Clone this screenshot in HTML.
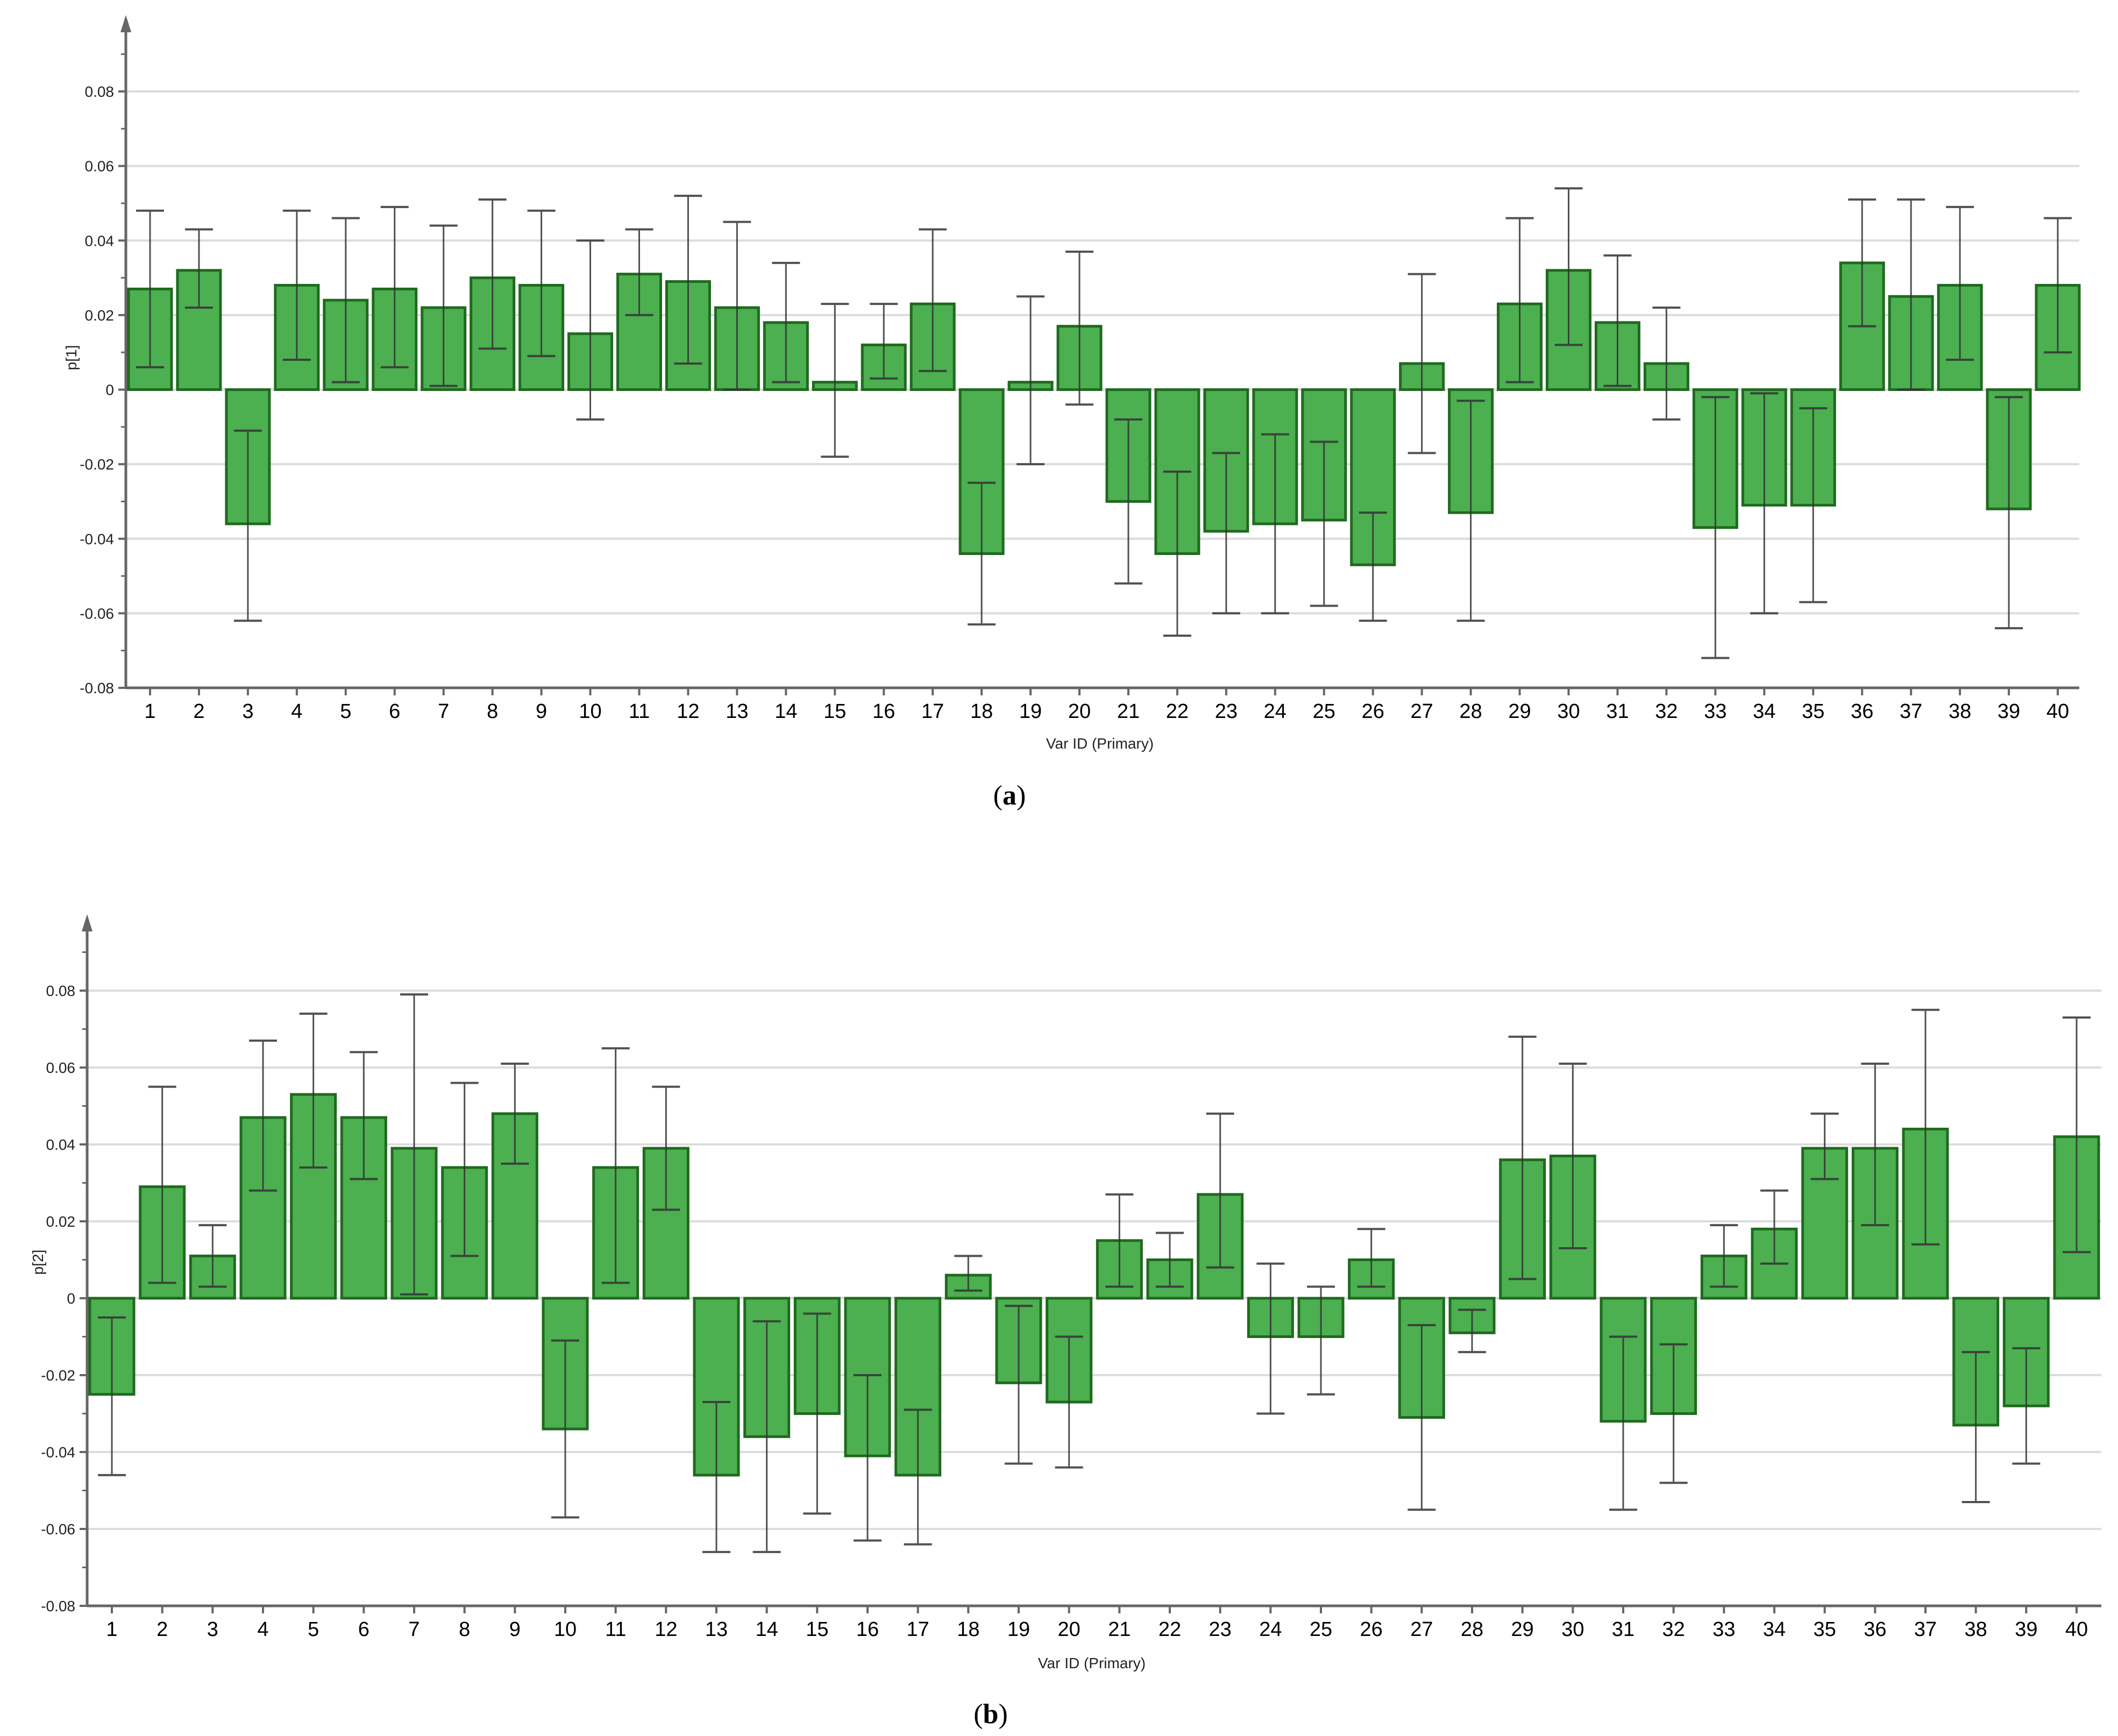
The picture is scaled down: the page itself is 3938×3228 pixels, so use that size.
<!DOCTYPE html>
<html><head><meta charset="utf-8"><style>
html,body{margin:0;padding:0;background:#fff;}
svg{display:block;font-family:"Liberation Sans",Arial,sans-serif;}
</style></head><body>
<svg id="svg" width="3938" height="3228" viewBox="0 0 3938 3228" xmlns="http://www.w3.org/2000/svg">
<text x="1877" y="1496" font-family="Liberation Serif,serif" font-size="52" text-anchor="middle">(<tspan font-weight="bold">a</tspan>)</text>
<text x="1842" y="3204" font-family="Liberation Serif,serif" font-size="52" text-anchor="middle">(<tspan font-weight="bold">b</tspan>)</text>
</svg>
<script>
const categories = Array.from({length:40},(_,i)=>String(i+1));
const yTicks = [0.08,0.06,0.04,0.02,0,-0.02,-0.04,-0.06,-0.08];
const yTickLabels = ["0.08","0.06","0.04","0.02","0","-0.02","-0.04","-0.06","-0.08"];
const p1Values = [0.027,0.032,-0.036,0.028,0.024,0.027,0.022,0.030,0.028,0.015,0.031,0.029,0.022,0.018,0.002,0.012,0.023,-0.044,0.002,0.017,-0.030,-0.044,-0.038,-0.036,-0.035,-0.047,0.007,-0.033,0.023,0.032,0.018,0.007,-0.037,-0.031,-0.031,0.034,0.025,0.028,-0.032,0.028];
const p1ErrLow = [0.006,0.022,-0.062,0.008,0.002,0.006,0.001,0.011,0.009,-0.008,0.020,0.007,0.000,0.002,-0.018,0.003,0.005,-0.063,-0.020,-0.004,-0.052,-0.066,-0.060,-0.060,-0.058,-0.062,-0.017,-0.062,0.002,0.012,0.001,-0.008,-0.072,-0.060,-0.057,0.017,0.000,0.008,-0.064,0.010];
const p1ErrHigh = [0.048,0.043,-0.011,0.048,0.046,0.049,0.044,0.051,0.048,0.040,0.043,0.052,0.045,0.034,0.023,0.023,0.043,-0.025,0.025,0.037,-0.008,-0.022,-0.017,-0.012,-0.014,-0.033,0.031,-0.003,0.046,0.054,0.036,0.022,-0.002,-0.001,-0.005,0.051,0.051,0.049,-0.002,0.046];
const p2Values = [-0.025,0.029,0.011,0.047,0.053,0.047,0.039,0.034,0.048,-0.034,0.034,0.039,-0.046,-0.036,-0.030,-0.041,-0.046,0.006,-0.022,-0.027,0.015,0.010,0.027,-0.010,-0.010,0.010,-0.031,-0.009,0.036,0.037,-0.032,-0.030,0.011,0.018,0.039,0.039,0.044,-0.033,-0.028,0.042];
const p2ErrLow = [-0.046,0.004,0.003,0.028,0.034,0.031,0.001,0.011,0.035,-0.057,0.004,0.023,-0.066,-0.066,-0.056,-0.063,-0.064,0.002,-0.043,-0.044,0.003,0.003,0.008,-0.030,-0.025,0.003,-0.055,-0.014,0.005,0.013,-0.055,-0.048,0.003,0.009,0.031,0.019,0.014,-0.053,-0.043,0.012];
const p2ErrHigh = [-0.005,0.055,0.019,0.067,0.074,0.064,0.079,0.056,0.061,-0.011,0.065,0.055,-0.027,-0.006,-0.004,-0.020,-0.029,0.011,-0.002,-0.010,0.027,0.017,0.048,0.009,0.003,0.018,-0.007,-0.003,0.068,0.061,-0.010,-0.012,0.019,0.028,0.048,0.061,0.075,-0.014,-0.013,0.073];

const NS="http://www.w3.org/2000/svg";
const svg=document.getElementById('svg');
function mk(tag,attrs,parent){const e=document.createElementNS(NS,tag);for(const k in attrs)e.setAttribute(k,attrs[k]);(parent||svg).appendChild(e);return e;}

function drawChart(cfg, vals, lo, hi){
  const g=mk('g',{});
  
  
  const Y=v=>cfg.yBot+(v-(-0.08))/(0.16)*(cfg.yTop-cfg.yBot);
  const X=i=>cfg.x1+i*(cfg.x40-cfg.x1)/(categories.length-1);
  yTicks.forEach((t,i)=>{
    if(t!==-0.08){const l=mk('line',{x1:cfg.axX,x2:cfg.gridEnd,y1:Y(t),y2:Y(t),stroke:'#dcdcdc','stroke-width':4},g);
    
    }
    const tk=mk('line',{x1:cfg.axX-14,x2:cfg.axX,y1:Y(t),y2:Y(t),stroke:'#666','stroke-width':4},g);
    
    
    const tx=mk('text',{x:cfg.axX-22,y:Y(t)+10,'font-size':28,'text-anchor':'end',fill:'#222'},g);
    tx.textContent=yTickLabels[i];
    
    
  });
  for(let v=-0.07;v<0.095;v+=0.02){
    const m=mk('line',{x1:cfg.axX-9,x2:cfg.axX,y1:Y(v),y2:Y(v),stroke:'#666','stroke-width':3},g);
    
    
  }
  const bw=cfg.bw;
  vals.forEach((v,i)=>{
    const cx=X(i);
    const top=Math.min(Y(v),Y(0)), h=Math.abs(Y(v)-Y(0));
    const r=mk('rect',{x:cx-bw/2,y:top,width:bw,height:h,fill:'#4caf50',stroke:'#1f6a1f','stroke-width':5},g);
    
    
    const eb=mk('g',{stroke:'#333','stroke-width':3,opacity:0.85},g);
    
    
    mk('line',{x1:cx,x2:cx,y1:Y(lo[i]),y2:Y(hi[i])},eb);
    mk('line',{x1:cx-26,x2:cx+26,y1:Y(lo[i]),y2:Y(lo[i]),'stroke-width':4},eb);
    mk('line',{x1:cx-26,x2:cx+26,y1:Y(hi[i]),y2:Y(hi[i]),'stroke-width':4},eb);
    const tk=mk('line',{x1:cx,x2:cx,y1:cfg.yBot,y2:cfg.yBot+14,stroke:'#666','stroke-width':4},g);
    
    
    const tx=mk('text',{x:cx,y:cfg.yBot+56,'font-size':38,'text-anchor':'middle',fill:'#000'},g);
    tx.textContent=categories[i];
    
    
  });
  const ya=mk('line',{x1:cfg.axX,x2:cfg.axX,y1:cfg.arrowTop+30,y2:cfg.yBot,stroke:'#666','stroke-width':5},g);
  
  
  const ar=mk('polygon',{points:`${cfg.axX-10},${cfg.arrowTop+32} ${cfg.axX+10},${cfg.arrowTop+32} ${cfg.axX},${cfg.arrowTop}`,fill:'#666'},g);
  
  
  const xa=mk('line',{x1:cfg.axX,x2:cfg.gridEnd,y1:cfg.yBot,y2:cfg.yBot,stroke:'#666','stroke-width':5},g);
  
  
  const xl=mk('text',{x:cfg.xLabelX,y:cfg.xLabelY,'font-size':28,'text-anchor':'middle',fill:'#222'},g);
  xl.textContent='Var ID (Primary)';
  
  
  const yl=mk('text',{x:0,y:0,'font-size':28,'text-anchor':'middle',fill:'#222',transform:`translate(${cfg.yLabelX},${cfg.yLabelY}) rotate(-90)`},g);
  yl.textContent=cfg.yTitle;
  
  
}

drawChart({name:'chart-p1',axX:234,arrowTop:28,yTop:170,yBot:1279,x1:279,x40:3826,bw:80,gridEnd:3866,xLabelX:2045,xLabelY:1392,yLabelX:142,yLabelY:665,yTitle:'p[1]'},p1Values,p1ErrLow,p1ErrHigh);
drawChart({name:'chart-p2',axX:162,arrowTop:1700,yTop:1842,yBot:2986,x1:208,x40:3861,bw:82,gridEnd:3907,xLabelX:2030,xLabelY:3102,yLabelX:80,yLabelY:2347,yTitle:'p[2]'},p2Values,p2ErrLow,p2ErrHigh);
</script>
</body></html>
